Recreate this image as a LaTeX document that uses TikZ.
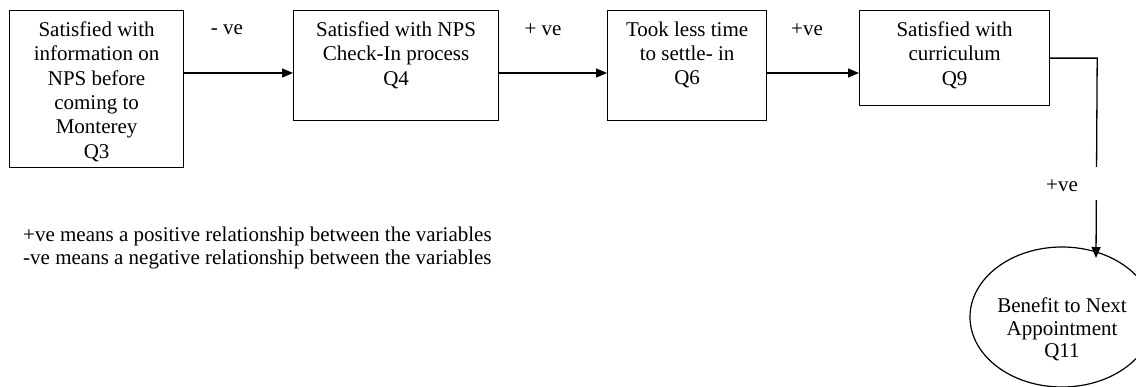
\documentclass[tikz,border=0pt]{standalone}
\usepackage{fontspec}
\setmainfont{Liberation Serif}
\usetikzlibrary{arrows.meta,shapes.geometric}
\newcommand{\boxtxt}[3]{\parbox[c][#2][t]{#1}{\centering\vspace*{11pt}#3\par}}
\tikzset{
  every node/.style={font=\fontsize{21pt}{24.4pt}\selectfont},
  stepbox/.style={draw, line width=1.2pt, inner sep=0pt},
  arr/.style={line width=1.3pt, -{Triangle[length=11pt,width=9pt]}},
  lbl/.style={inner sep=0pt}
}
\begin{document}
\begin{tikzpicture}[x=1pt,y=-1pt]
\useasboundingbox (0,0) rectangle (1136,386);
\clip (0,0) rectangle (1136,386);
\node[stepbox, anchor=north west] (q3) at (9,10)
  {\boxtxt{174pt}{157pt}{Satisfied with\\information on\\NPS before\\coming to\\Monterey\\Q3}};
\node[stepbox, anchor=north west] (q4) at (293,10)
  {\boxtxt{205pt}{110pt}{Satisfied with NPS\\Check-In process\\Q4}};
\node[stepbox, anchor=north west] (q6) at (607,10)
  {\boxtxt{159pt}{110pt}{Took less time\\to settle- in\\Q6}};
\node[stepbox, anchor=north west] (q9) at (859,10)
  {\boxtxt{190pt}{95pt}{Satisfied with\\curriculum\\Q9}};
\node[ellipse, draw, line width=1.2pt, inner sep=0pt, minimum width=184pt, minimum height=140pt] (q11) at (1062,317)
  {\raisebox{-19pt}[0pt][0pt]{\fontsize{21pt}{22.5pt}\selectfont\begin{tabular}{@{}c@{}}Benefit to Next\\Appointment\\Q11\end{tabular}}};
\coordinate (row) at (0,73);
\draw[arr] (q3.east |- row) -- (q4.west |- row);
\draw[arr] (q4.east |- row) -- (q6.west |- row);
\draw[arr] (q6.east |- row) -- (q9.west |- row);
\node[lbl] (l1) at (227,30) {- ve};
\node[lbl] (l2) at (543,30) {+ ve};
\node[lbl] (l3) at (807,30) {+ve};
\coordinate (turn) at ([xshift=47pt]q9.east);
\coordinate (tip) at (1096,258);
\draw[arr] (q9.east) -- (turn) -- (tip);
\node[fill=white, inner sep=0pt, minimum width=74pt, minimum height=33pt] (l4) at (1062,183.5)
  {\raisebox{-8pt}[0pt][0pt]{+ve}};
\node[anchor=west, align=left, inner sep=0pt, font=\fontsize{21pt}{23pt}\selectfont] (legend) at (23,247.5)
  {+ve means a positive relationship between the variables\\-ve means a negative relationship between the variables};
\end{tikzpicture}
\end{document}
